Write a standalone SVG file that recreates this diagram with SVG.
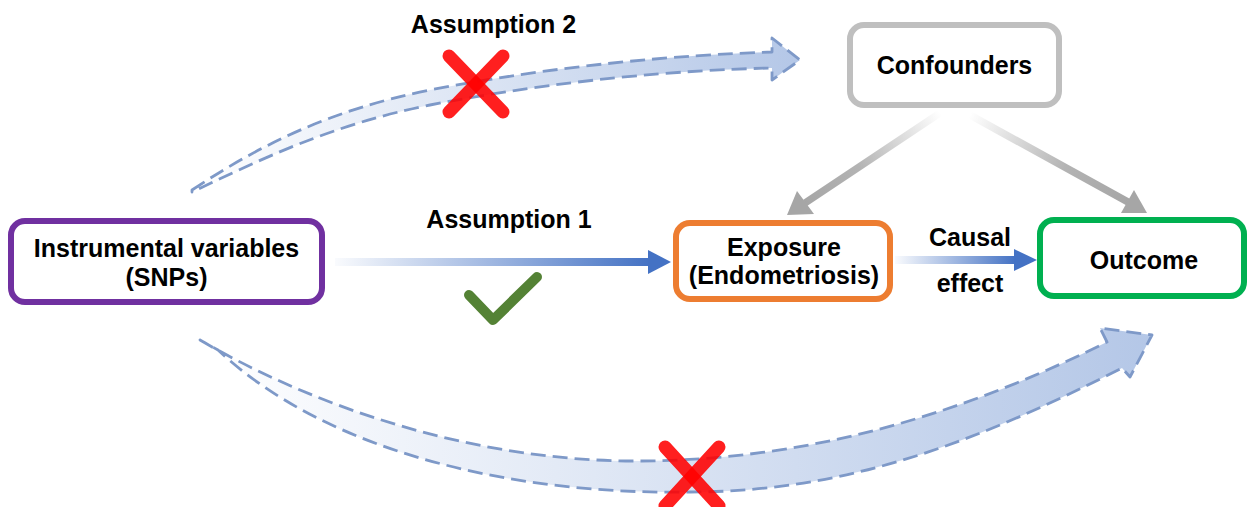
<svg xmlns="http://www.w3.org/2000/svg" width="1250" height="507" viewBox="0 0 1250 507">
<defs>
<style>
.box{fill:#fff;stroke-width:6}
.t{font-family:"Liberation Sans",Arial,sans-serif;font-weight:bold;font-size:25px;fill:#000;text-anchor:middle}
.band{stroke:#7E99C8;stroke-width:2.8;stroke-dasharray:15 7;stroke-linejoin:round}
.cross{stroke:#FF0000;stroke-width:13;stroke-linecap:round;opacity:0.88;fill:none}
</style>
<linearGradient id="gTop" gradientUnits="userSpaceOnUse" x1="192" y1="0" x2="800" y2="0">
<stop offset="0" stop-color="#FFFFFF"/>
<stop offset="1" stop-color="#B4C7E7"/>
</linearGradient>
<linearGradient id="gBot" gradientUnits="userSpaceOnUse" x1="200" y1="0" x2="1152" y2="0">
<stop offset="0" stop-color="#FFFFFF"/>
<stop offset="1" stop-color="#B4C7E7"/>
</linearGradient>
<linearGradient id="gBlue1" gradientUnits="userSpaceOnUse" x1="335" y1="0" x2="650" y2="0">
<stop offset="0" stop-color="#4472C4" stop-opacity="0.03"/>
<stop offset="1" stop-color="#4472C4"/>
</linearGradient>
<linearGradient id="gBlue2" gradientUnits="userSpaceOnUse" x1="895" y1="0" x2="1015" y2="0">
<stop offset="0" stop-color="#4472C4" stop-opacity="0.03"/>
<stop offset="1" stop-color="#4472C4"/>
</linearGradient>
<linearGradient id="gGrayL" gradientUnits="userSpaceOnUse" x1="940" y1="113" x2="805" y2="203">
<stop offset="0" stop-color="#A6A6A6" stop-opacity="0"/>
<stop offset="0.6" stop-color="#A6A6A6" stop-opacity="0.85"/>
<stop offset="1" stop-color="#A6A6A6"/>
</linearGradient>
<linearGradient id="gGrayR" gradientUnits="userSpaceOnUse" x1="970" y1="115" x2="1128" y2="202">
<stop offset="0" stop-color="#A6A6A6" stop-opacity="0"/>
<stop offset="0.6" stop-color="#A6A6A6" stop-opacity="0.85"/>
<stop offset="1" stop-color="#A6A6A6"/>
</linearGradient>
</defs>
<rect width="1250" height="507" fill="#fff"/>

<g id="connectors">
<path id="assump2-arrow" class="band" fill="url(#gTop)" d="M192,190 C260,145 330,110 430,90 C560,65 680,55 772,52 L772,38 L800,60 L772,80 L772,68 C680,70 560,80 430,105 C330,125 260,160 192,192 Z"/>
<path id="assump3-arrow" class="band" fill="url(#gBot)" d="M200,340 C320,410 480,462 640,461 C800,460 950,420 1107,342 L1100,328 L1152,335 L1130,377 L1122,368 C980,440 850,492 690,492 C520,495 330,455 218,350 Z"/>
<g id="assump1-arrow">
<rect x="335" y="258" width="316" height="8" fill="url(#gBlue1)"/>
<polygon points="648,250 671,262 648,274" fill="#4472C4"/>
</g>
<g id="causal-arrow">
<rect x="895" y="256" width="121" height="8" fill="url(#gBlue2)"/>
<polygon points="1014,249 1037,260 1014,271" fill="#4472C4"/>
</g>
<g id="conf-exposure">
<line x1="940" y1="113" x2="805" y2="203" stroke="url(#gGrayL)" stroke-width="7.5"/>
<polygon points="787,215 797,191 814,214" fill="#A6A6A6"/>
</g>
<g id="conf-outcome">
<line x1="970" y1="115" x2="1128" y2="202" stroke="url(#gGrayR)" stroke-width="7.5"/>
<polygon points="1147,213 1121,213 1134,190" fill="#A6A6A6"/>
</g>
</g>

<g id="marks">
<g id="cross-top">
<line class="cross" x1="449" y1="56" x2="503" y2="112"/>
<line class="cross" x1="503" y1="56" x2="449" y2="112"/>
</g>
<g id="cross-bottom">
<line class="cross" x1="665" y1="447" x2="719" y2="506"/>
<line class="cross" x1="719" y1="447" x2="665" y2="506"/>
</g>
<polyline id="check" points="469,295 493,320 537,277" fill="none" stroke="#548235" stroke-width="10" stroke-linecap="round" stroke-linejoin="round"/>
</g>

<g id="labels">
<text class="t" x="493.5" y="33">Assumption 2</text>
<text class="t" x="509" y="228">Assumption 1</text>
<text class="t" x="970" y="246">Causal</text>
<text class="t" x="970" y="292">effect</text>
</g>

<g id="node-iv">
<rect class="box" x="11" y="221" width="311" height="81" rx="14" stroke="#7030A0"/>
<text class="t" x="166.5" y="257">Instrumental variables</text>
<text class="t" x="166.5" y="286">(SNPs)</text>
</g>
<g id="node-exposure">
<rect class="box" x="676" y="223" width="214" height="76" rx="14" stroke="#ED7D31"/>
<text class="t" x="784" y="256">Exposure</text>
<text class="t" x="784" y="284">(Endometriosis)</text>
</g>
<g id="node-outcome">
<rect class="box" x="1040" y="220" width="204" height="76" rx="14" stroke="#00B050"/>
<text class="t" x="1144" y="269">Outcome</text>
</g>
<g id="node-confounders">
<rect class="box" x="850" y="25" width="209" height="80" rx="14" stroke="#BFBFBF"/>
<text class="t" x="954.5" y="74">Confounders</text>
</g>
</svg>
